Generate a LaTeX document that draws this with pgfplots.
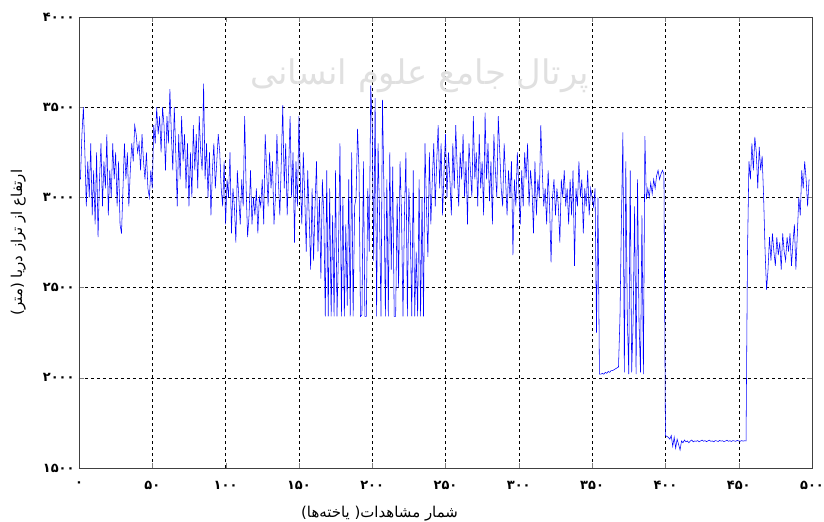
\documentclass[border=0pt]{standalone}
\usepackage{fontspec}
\usepackage{pgfplots}
\usepackage{pgfplotstable}
\pgfplotsset{compat=1.18}
\setmainfont{DejaVu Sans}
\newfontfamily\fa[Script=Arabic]{DejaVu Sans}
\TeXXeTstate=1

% elevation of each observation (m), one value per cell, x = 1,2,3,...
\pgfplotstableread[row sep=\\,header=false]{
3100\\ 3350\\ 3500\\ 3250\\ 2950\\ 3200\\ 3000\\ 3300\\ 2900\\ 3150\\
2850\\ 3250\\ 2780\\ 3100\\ 3300\\ 2950\\ 3200\\ 3050\\ 3350\\ 2900\\
3150\\ 3000\\ 3300\\ 3100\\ 3250\\ 2950\\ 3200\\ 2850\\ 2800\\ 3050\\
3300\\ 3100\\ 3250\\ 2950\\ 3150\\ 3300\\ 3200\\ 3400\\ 3350\\ 3250\\
3300\\ 3150\\ 3350\\ 3200\\ 3100\\ 3250\\ 3050\\ 3000\\ 3150\\ 3050\\
3400\\ 3300\\ 3500\\ 3350\\ 3450\\ 3250\\ 3500\\ 3400\\ 3150\\ 3450\\
3300\\ 3600\\ 3350\\ 3150\\ 3500\\ 3250\\ 2950\\ 3350\\ 3100\\ 3450\\
3200\\ 3350\\ 3050\\ 3300\\ 2950\\ 3250\\ 3000\\ 3400\\ 3150\\ 3350\\
3050\\ 3450\\ 3250\\ 3150\\ 3630\\ 3100\\ 3300\\ 3000\\ 3250\\ 2900\\
3150\\ 3300\\ 3050\\ 3200\\ 3350\\ 3250\\ 3050\\ 2950\\ 3200\\ 2850\\
3100\\ 3000\\ 3250\\ 2800\\ 3050\\ 2950\\ 2750\\ 3150\\ 3000\\ 2850\\
3100\\ 2950\\ 3450\\ 3050\\ 2780\\ 2900\\ 3150\\ 2850\\ 3000\\ 2900\\
3050\\ 2800\\ 3000\\ 2950\\ 3100\\ 2850\\ 3350\\ 3150\\ 2950\\ 3250\\
3050\\ 3200\\ 2850\\ 3000\\ 3350\\ 3100\\ 2900\\ 3200\\ 3510\\ 3050\\
3300\\ 2900\\ 3150\\ 3450\\ 3000\\ 3250\\ 2750\\ 3200\\ 2950\\ 3450\\
3100\\ 2850\\ 3250\\ 3000\\ 2700\\ 3150\\ 2900\\ 2600\\ 3050\\ 2650\\
2950\\ 3200\\ 2700\\ 3000\\ 2550\\ 3100\\ 2900\\ 2340\\ 3150\\ 2340\\
3050\\ 2340\\ 2900\\ 2340\\ 3150\\ 2340\\ 2700\\ 3300\\ 2340\\ 3000\\
2340\\ 2850\\ 2400\\ 3100\\ 2340\\ 3250\\ 2340\\ 2950\\ 3000\\ 3380\\
3150\\ 2340\\ 2350\\ 3200\\ 2340\\ 2340\\ 3050\\ 2700\\ 3620\\ 3400\\
2650\\ 3550\\ 2340\\ 3300\\ 2900\\ 2340\\ 3540\\ 3050\\ 2340\\ 3100\\
2340\\ 3250\\ 2600\\ 3170\\ 2340\\ 2340\\ 3000\\ 2500\\ 3200\\ 2900\\
2340\\ 2900\\ 3250\\ 2340\\ 3050\\ 2800\\ 2340\\ 3150\\ 2340\\ 2700\\
2340\\ 3100\\ 2340\\ 3000\\ 2340\\ 3300\\ 2950\\ 2670\\ 3250\\ 2850\\
3100\\ 3300\\ 2950\\
3200\\ 3400\\ 3050\\ 3300\\ 2900\\ 3150\\ 3350\\ 3000\\ 3250\\ 3100\\
2900\\ 3300\\ 3050\\ 3400\\ 3150\\ 2950\\ 3250\\ 3100\\ 3350\\ 3000\\
3200\\ 2850\\ 3300\\ 3150\\ 3000\\ 3450\\ 3100\\ 3250\\ 2950\\ 3350\\
3050\\ 3200\\ 2900\\ 3470\\ 3100\\ 3300\\ 2980\\ 3200\\ 2850\\ 3350\\
3150\\ 3000\\ 3450\\ 3250\\ 3050\\ 2950\\ 3300\\ 3100\\ 2900\\ 3150\\
3000\\ 3200\\ 2680\\ 3100\\ 2950\\ 3250\\ 3050\\ 2850\\ 3150\\ 2950\\
3250\\ 3100\\ 3300\\ 2950\\ 3150\\ 3050\\ 2800\\ 3200\\ 2900\\ 3100\\
3000\\ 3400\\ 3150\\ 2950\\ 3050\\ 2850\\ 3150\\ 2950\\ 2640\\ 3000\\
3100\\ 2900\\ 3050\\ 2950\\ 2750\\ 3100\\ 3000\\ 3150\\ 2950\\ 3050\\
2850\\ 3100\\ 2900\\ 3150\\ 2620\\ 3050\\ 2950\\ 3200\\ 3000\\ 3100\\
2800\\ 3050\\ 2950\\ 3150\\ 2900\\ 3050\\ 3000\\ 2950\\ 3050\\ 2250\\
3000\\ 2020\\ 2020\\ 2025\\ 2020\\ 2030\\ 2025\\ 2035\\ 2030\\ 2040\\
2040\\ 2045\\ 2050\\ 2055\\ 2060\\ 2330\\ 2870\\ 3360\\ 2030\\ 3200\\
2340\\ 2020\\ 3150\\ 2030\\ 2320\\ 2950\\ 2020\\ 3100\\ 2310\\ 2030\\
2900\\ 2020\\ 3340\\ 2990\\ 3050\\ 3000\\ 3080\\ 3020\\ 3100\\ 3050\\
3120\\ 3150\\ 3100\\ 3130\\ 3150\\ 3130\\ 1680\\
1675\\ 1670\\ 1660\\ 1680\\ 1620\\ 1670\\ 1610\\ 1660\\ 1630\\ 1600\\
1650\\ 1640\\ 1655\\ 1645\\ 1650\\ 1640\\ 1650\\ 1655\\ 1645\\ 1650\\
1648\\ 1652\\ 1645\\ 1650\\ 1655\\ 1648\\ 1652\\ 1646\\ 1650\\ 1654\\
1648\\ 1650\\ 1645\\ 1652\\ 1650\\ 1647\\ 1653\\ 1649\\ 1651\\ 1646\\
1650\\ 1654\\ 1648\\ 1651\\ 1647\\ 1652\\ 1650\\ 1648\\ 1653\\ 1650\\
1648\\ 1652\\ 1649\\ 1651\\ 1650\\
2700\\ 3200\\ 3100\\ 3300\\ 3150\\ 3335\\ 3250\\ 3050\\ 3280\\ 3150\\
3230\\ 3000\\ 2700\\ 2487\\ 2600\\ 2780\\ 2650\\ 2800\\ 2700\\ 2620\\
2780\\ 2680\\ 2750\\ 2600\\ 2800\\ 2700\\ 2650\\ 2780\\ 2700\\ 2800\\
2620\\ 2750\\ 2850\\ 2600\\ 2800\\ 3000\\ 2900\\ 3150\\ 3050\\ 3200\\
3100\\ 2950\\ 3100\\
}\elev

\begin{document}
\begin{tikzpicture}
\begin{axis}[
  name=ax,
  scale only axis,
  width=733bp, height=451bp,
  xmin=0, xmax=500, ymin=1500, ymax=4000,
  xtick={0,50,...,500},
  xticklabels={۰,۵۰,۱۰۰,۱۵۰,۲۰۰,۲۵۰,۳۰۰,۳۵۰,۴۰۰,۴۵۰,۵۰۰},
  ytick={1500,2000,...,4000},
  yticklabels={۱۵۰۰,۲۰۰۰,۲۵۰۰,۳۰۰۰,۳۵۰۰,۴۰۰۰},
  ticklabel style={font=\fa\bfseries\fontsize{13}{15}\selectfont},
  xticklabel style={yshift=-10bp},
  yticklabel style={xshift=-1bp},
  tick align=inside, tick pos=both,
  major tick length=5bp,
  axis line style={black!75, line width=0.7pt},
  grid=major,
  major grid style={black, dashed, line width=0.4pt},
  xlabel={\fa\fontsize{15}{18}\selectfont\beginR شمار مشاهدات( یاخته‌ها)\endR},
  xlabel style={at={(axis description cs:0.41,-0.102)}, anchor=center},
  ylabel={\fa\fontsize{15}{18}\selectfont\beginR ارتفاع از تراز دریا (متر)\endR},
  ylabel style={at={(axis description cs:-0.083,0.5)}, anchor=center},
]
\node[text=black!12, font=\fa\fontsize{34}{40}\selectfont]
  at (axis description cs:0.465,0.87) {\beginR پرتال جامع علوم انسانی\endR};
\addplot[blue, line width=0.55pt] table[x expr=\coordindex+1, y index=0] {\elev};
\end{axis}
\pgfresetboundingbox
\path ([shift={(-79bp,-54bp)}]ax.south west) rectangle ([shift={(12bp,17bp)}]ax.north east);
\end{tikzpicture}
\end{document}
